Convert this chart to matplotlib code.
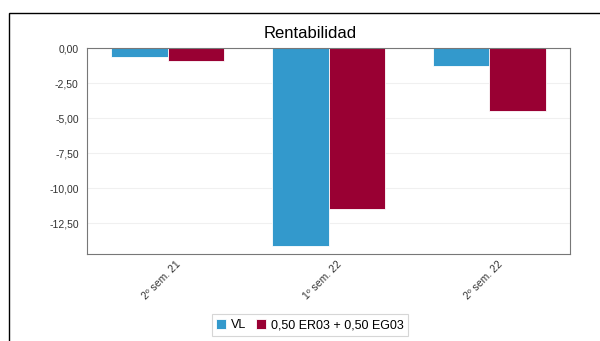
import matplotlib
matplotlib.use("Agg")
import matplotlib.pyplot as plt
import matplotlib.transforms as mtransforms
import numpy as np
from matplotlib.patches import Rectangle
from matplotlib.ticker import FuncFormatter

plt.rcParams['font.family'] = ['Liberation Sans', 'DejaVu Sans']

periods = ["2º sem. 21", "1º sem. 22", "2º sem. 22"]
vl = [-0.64, -14.15, -1.29]
bench = [-0.93, -11.5, -4.5]
series_names = ["VL", "0,50 ER03 + 0,50 EG03"]
yticks = [0, -2.5, -5, -7.5, -10, -12.5]

fig = plt.figure(figsize=(6, 3.41), dpi=100)
W, H = 600, 341
ax = fig.add_axes([87 / W, 1 - 254 / H, (570 - 87) / W, (254 - 48) / H])

# outer frame (cut by the image edge on the right and bottom)
fig.patches.append(Rectangle((9 / W, -0.1), 1.2, 1 - 13 / H + 0.1,
                             transform=fig.transFigure, fill=False,
                             edgecolor='black', lw=1.0))

x = np.arange(len(periods))
w = 0.35
ax.bar(x - w / 2, vl, w, color='#3399cc', label=series_names[0], edgecolor='white', lw=0.6)
ax.bar(x + w / 2, bench, w, color='#990033', label=series_names[1], edgecolor='white', lw=0.6)

ax.set_xlim(-0.5, len(periods) - 0.5)
ax.set_ylim(-14.7, 0)
ax.set_yticks(yticks)
ax.yaxis.set_major_formatter(FuncFormatter(lambda v, p: ("%.2f" % v).replace('.', ',')))
ax.set_xticks(x)
ax.set_xticklabels(periods, rotation=45, ha='right', rotation_mode='anchor')
ax.tick_params(axis='both', length=0, labelsize=7.5, colors='#333333', pad=6)
ax.tick_params(axis='x', pad=4)
shift = mtransforms.ScaledTranslation(8 / 100, 0, fig.dpi_scale_trans)
for lbl in ax.get_xticklabels():
    lbl.set_transform(lbl.get_transform() + shift)
ax.grid(axis='y', color='#f0f0f0', lw=0.8)
ax.set_axisbelow(True)
for s in ax.spines.values():
    s.set_color('#777777')
    s.set_linewidth(0.8)

fig.text(310 / W, 1 - 33 / H, "Rentabilidad", ha='center', va='center', fontsize=12)

leg = fig.legend(loc='center', bbox_to_anchor=(310 / W, 1 - 325 / H), ncol=2,
                 fontsize=9, frameon=True, fancybox=False, handlelength=0.8,
                 handleheight=0.9, handletextpad=0.4, columnspacing=0.8,
                 borderpad=0.35, edgecolor='#cccccc')
leg.get_frame().set_linewidth(0.8)

fig.savefig("out.png", dpi=100)
